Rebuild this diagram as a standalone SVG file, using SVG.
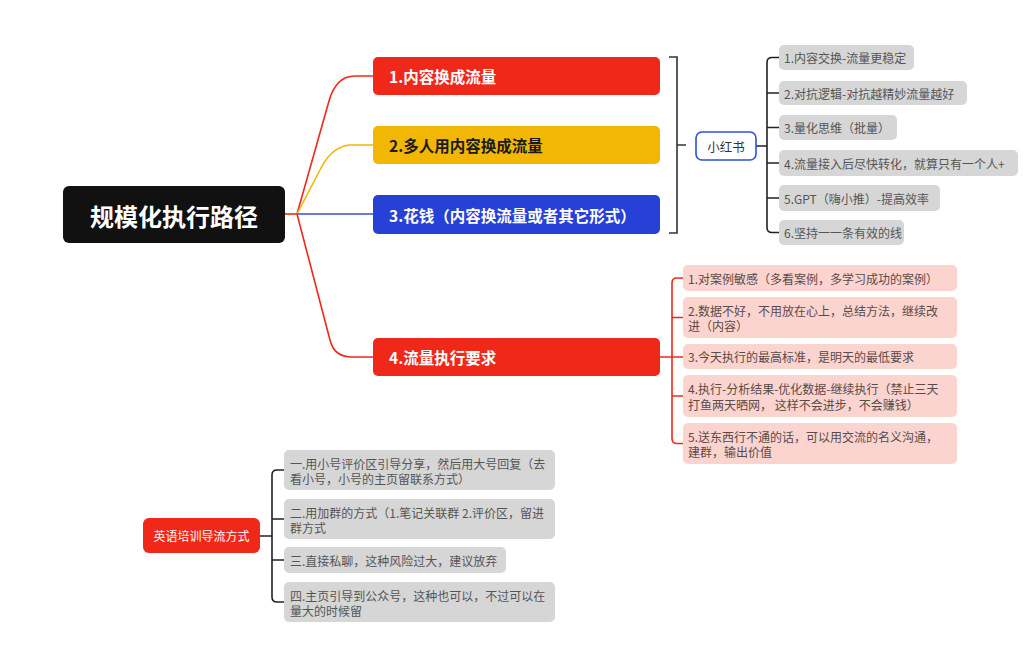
<svg xmlns="http://www.w3.org/2000/svg" width="1024" height="651" viewBox="0 0 1024 651">
<style>
text{font-family:"Noto Sans CJK SC","Noto Sans",sans-serif;dominant-baseline:central}
.main{font-size:15.5px;font-weight:bold}
.sub{font-size:12px;fill:#555}
.pk{font-size:12px;fill:#5a4a48}
.gray{fill:#d6d6d6}
.pink{fill:#fbd4d0}
.cn{fill:none;stroke-width:1.6}
</style>
<rect width="1024" height="651" fill="#fff"/>
<g id="connectors">
<path class="cn" stroke="#f0281a" d="M285,214 H297"/>
<path class="cn" stroke="#f0281a" d="M297,214 L329,101 Q336,76 355,76 H373"/>
<path class="cn" stroke="#f2b705" d="M297,214 L321,168 Q333,145 352,145 H373"/>
<path class="cn" stroke="#2f4fdc" d="M297,214 H373"/>
<path class="cn" stroke="#f0281a" d="M297,214 L330,340 Q334,357 352,357 H373"/>
<path class="cn" stroke="#333" stroke-width="2" d="M669,57 H677 V233 H669 M677,145 H686"/>
<path class="cn" stroke="#222" d="M756,146 H767 M779,57.5 H772 Q767,57.5 767,62.5 V227.5 Q767,232.5 772,232.5 H779 M767,93 H779 M767,127.5 H779 M767,163 H779 M767,198 H779"/>
<path class="cn" stroke="#f0281a" d="M660,357 H683 M683,278 H677 Q672,278 672,283 V438.5 Q672,443.5 677,443.5 H683 M672,317.5 H683 M672,396 H683"/>
<path class="cn" stroke="#222" d="M260,536 H272 M284,470 H277 Q272,470 272,475 V597 Q272,602 277,602 H284 M272,519 H284 M272,560 H284"/>
</g>
<g id="root">
<rect x="63" y="186" width="222" height="57" rx="6" fill="#111"/>
<text x="174" y="215" text-anchor="middle" font-size="24" font-weight="bold" fill="#fff">规模化执行路径</text>
</g>
<g id="n1">
<rect x="373" y="57" width="287" height="38" rx="5" fill="#f0281a"/>
<text class="main" x="389" y="76" fill="#fff">1.内容换成流量</text>
</g>
<g id="n2">
<rect x="373" y="126" width="287" height="38" rx="5" fill="#f2b705"/>
<text class="main" x="389" y="145" fill="#1a1a1a">2.多人用内容换成流量</text>
</g>
<g id="n3">
<rect x="373" y="195" width="287" height="39" rx="5" fill="#2740d6"/>
<text class="main" x="389" y="214.5" fill="#fff">3.花钱（内容换流量或者其它形式）</text>
</g>
<g id="n4">
<rect x="373" y="338" width="287" height="38" rx="5" fill="#f0281a"/>
<text class="main" x="389" y="357" fill="#fff">4.流量执行要求</text>
</g>
<g id="xhs">
<rect x="696" y="132" width="60" height="28" rx="6" fill="#fff" stroke="#2f4fdc" stroke-width="1.6"/>
<text x="726" y="146" text-anchor="middle" font-size="12.5" fill="#333">小红书</text>
</g>
<g id="x1"><rect class="gray" x="779" y="45" width="135" height="25" rx="5"/><text class="sub" x="784" y="57.5">1.内容交换-流量更稳定</text></g>
<g id="x2"><rect class="gray" x="779" y="81" width="188" height="24" rx="5"/><text class="sub" x="784" y="93">2.对抗逻辑-对抗越精妙流量越好</text></g>
<g id="x3"><rect class="gray" x="779" y="115" width="118" height="25" rx="5"/><text class="sub" x="784" y="127.5">3.量化思维（批量）</text></g>
<g id="x4"><rect class="gray" x="779" y="150" width="239" height="26" rx="5"/><text class="sub" x="784" y="163">4.流量接入后尽快转化，就算只有一个人+</text></g>
<g id="x5"><rect class="gray" x="779" y="185" width="161" height="26" rx="5"/><text class="sub" x="784" y="198">5.GPT（嗨小推）-提高效率</text></g>
<g id="x6"><rect class="gray" x="779" y="220" width="125" height="25" rx="5"/><text class="sub" x="784" y="232.5">6.坚持一一条有效的线</text></g>
<g id="p1"><rect class="pink" x="683" y="265" width="274" height="26" rx="5"/><text class="pk" x="688" y="278">1.对案例敏感（多看案例，多学习成功的案例）</text></g>
<g id="p2"><rect class="pink" x="683" y="297" width="274" height="41" rx="5"/><text class="pk" x="688" y="310">2.数据不好，不用放在心上，总结方法，继续改</text><text class="pk" x="688" y="325">进（内容）</text></g>
<g id="p3"><rect class="pink" x="683" y="344" width="274" height="25" rx="5"/><text class="pk" x="688" y="356.5">3.今天执行的最高标准，是明天的最低要求</text></g>
<g id="p4"><rect class="pink" x="683" y="375" width="274" height="42" rx="5"/><text class="pk" x="688" y="388">4.执行-分析结果-优化数据-继续执行（禁止三天</text><text class="pk" x="688" y="404">打鱼两天晒网， 这样不会进步，不会赚钱）</text></g>
<g id="p5"><rect class="pink" x="683" y="423" width="274" height="41" rx="5"/><text class="pk" x="688" y="436">5.送东西行不通的话，可以用交流的名义沟通，</text><text class="pk" x="688" y="451">建群，输出价值</text></g>
<g id="en">
<rect x="143" y="518" width="117" height="35" rx="6" fill="#f0281a"/>
<text x="201.5" y="535.5" text-anchor="middle" font-size="12" fill="#fff">英语培训导流方式</text>
</g>
<g id="e1"><rect class="gray" x="284" y="450" width="271" height="40" rx="5"/><text class="sub" x="290" y="463">一.用小号评价区引导分享，然后用大号回复（去</text><text class="sub" x="290" y="478">看小号，小号的主页留联系方式）</text></g>
<g id="e2"><rect class="gray" x="284" y="499" width="271" height="40" rx="5"/><text class="sub" x="290" y="512">二.用加群的方式（1.笔记关联群 2.评价区，留进</text><text class="sub" x="290" y="527">群方式</text></g>
<g id="e3"><rect class="gray" x="284" y="547" width="222" height="26" rx="5"/><text class="sub" x="290" y="560">三.直接私聊，这种风险过大，建议放弃</text></g>
<g id="e4"><rect class="gray" x="284" y="582" width="271" height="40" rx="5"/><text class="sub" x="290" y="595">四.主页引导到公众号，这种也可以，不过可以在</text><text class="sub" x="290" y="610">量大的时候留</text></g>
</svg>
